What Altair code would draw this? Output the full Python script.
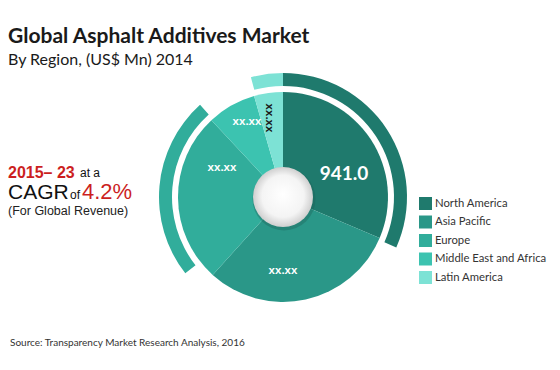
import math
import altair as alt
import pandas as pd

# ---- data ----
regions = ["North America", "Asia Pacific", "Europe", "Middle East and Africa", "Latin America"]
values_mn = [941.0, 908.0, 791.0, 225.0, 133.0]
region_colors = ["#1f7a6d", "#2a9788", "#31ad9b", "#3cc3b0", "#7de2d5"]

# decorative outer arcs (degrees, clockwise from top)
arc_regions = ["North America", "Europe", "Latin America"]
arc_start_deg = [0, 232, 345]
arc_end_deg = [114, 318, 360]
arc_colors = ["#1f7a6d", "#31ad9b", "#7de2d5"]

slice_labels = ["941.0", "xx.xx", "xx.xx", "xx.xx", "xx.xx"]

pie_df = pd.DataFrame({"region": regions, "value": values_mn, "ord": list(range(len(regions)))})
arc_df = pd.DataFrame({"region": arc_regions, "start": arc_start_deg, "end": arc_end_deg, "fillc": arc_colors})
one = pd.DataFrame({"k": [0]})

CX, CY = 275, 189
W, H = 544, 354

pie = alt.Chart(pie_df).mark_arc(outerRadius=105, innerRadius=0, stroke=None).encode(
    theta=alt.Theta("value:Q", stack=True),
    order=alt.Order("ord:Q", sort="ascending"),
    color=alt.Color(
        "region:N",
        scale=alt.Scale(domain=regions, range=region_colors),
        sort=regions,
        legend=alt.Legend(
            title=None, orient="none", legendX=411, legendY=189,
            symbolType="square", symbolSize=169, symbolStrokeWidth=0,
            labelFont="Lato", labelFontSize=11.3, labelColor="#333333",
            rowPadding=5.5, labelOffset=3, padding=0, labelLimit=200,
        ),
    ),
    x=alt.value(CX),
    y=alt.value(CY),
)

outer = alt.Chart(arc_df).mark_arc(innerRadius=111, outerRadius=124).encode(
    theta=alt.Theta("start:Q", scale=alt.Scale(domain=[0, 360], range=[0, 2 * math.pi])),
    theta2="end:Q",
    color=alt.Color("fillc:N", scale=None),
    x=alt.value(CX),
    y=alt.value(CY),
)

shadow = alt.Chart(one).mark_arc(
    theta=0, theta2=2 * math.pi, innerRadius=0, outerRadius=31.5, fill="#1d5e55", opacity=0.35
).encode(x=alt.value(CX + 1), y=alt.value(CY + 2))

hole = alt.Chart(one).mark_arc(
    theta=0, theta2=2 * math.pi, innerRadius=0, outerRadius=30,
    fill=alt.Gradient(
        gradient="radial",
        stops=[alt.GradientStop(color="#ffffff", offset=0), alt.GradientStop(color="#f4f4f4", offset=0.7),
               alt.GradientStop(color="#cfcfcf", offset=1)],
        x1=0.5, y1=0.45, x2=0.5, y2=0.5, r1=0, r2=0.5,
    ),
).encode(x=alt.value(CX), y=alt.value(CY))


def txt(s, x, y, size, color="#111111", weight="normal", font="Lato", align="left", angle=0, baseline="alphabetic"):
    kw = dict(text=s, fontSize=size, color=color, fontWeight=weight, font=font, align=align, baseline=baseline)
    if angle:
        kw["angle"] = angle
    return alt.Chart(one).mark_text(**kw).encode(x=alt.value(x), y=alt.value(y))


layers = [
    outer, pie, shadow, hole,
    txt(slice_labels[0], 336, 166, 19, color="white", weight="bold", align="center", baseline="middle"),
    txt(slice_labels[1], 275, 263, 11.5, color="white", weight="bold", font="Liberation Sans", align="center", baseline="middle"),
    txt(slice_labels[2], 214, 160, 11.5, color="white", weight="bold", font="Liberation Sans", align="center", baseline="middle"),
    txt(slice_labels[3], 239, 114, 11.5, color="white", weight="bold", font="Liberation Sans", align="center", baseline="middle"),
    txt(slice_labels[4], 261, 110, 11.5, color="#1a1a1a", weight="bold", font="Liberation Sans", align="center", baseline="middle", angle=90),
    # titles
    txt("Global Asphalt Additives Market", 0, 35, 21, color="#1a1a1a", weight="bold"),
    txt("By Region, (US$ Mn) 2014", 0, 57, 16, color="#1a1a1a"),
    # CAGR block
    txt("2015\u2013 23", 0, 170, 16, color="#cc1f1f", weight="bold", font="Liberation Sans"),
    txt("at a", 72, 169, 12, color="#111111", font="Liberation Sans"),
    txt("CAGR", 0, 191, 21, color="#111111", font="Liberation Sans"),
    txt("of", 62, 191, 12, color="#111111", font="Liberation Sans"),
    txt("4.2%", 74, 191, 22, color="#cc1f1f", font="Liberation Sans"),
    txt("(For Global Revenue)", 0, 207, 12.5, color="#222222", font="Liberation Sans"),
    # source
    txt("Source: Transparency Market Research Analysis, 2016", 2, 338, 10, color="#333333"),
]

chart = alt.layer(*layers).resolve_scale(theta="independent", color="independent").properties(
    width=W, height=H, padding=0, autosize=alt.AutoSizeParams(type="none"), background="white"
).configure_view(stroke=None)

chart.save("out.html", embed_options={"renderer": "svg", "actions": False})
